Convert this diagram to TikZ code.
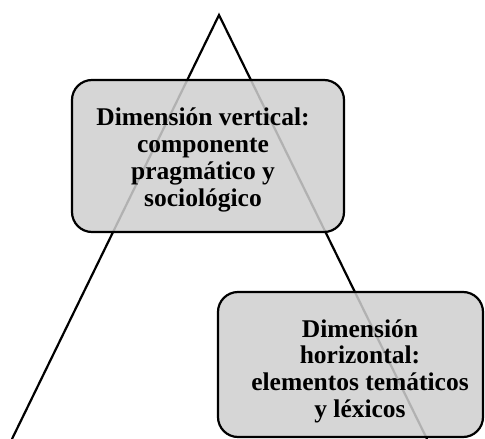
\documentclass[tikz,border=0pt]{standalone}
\usepackage{fontspec}
\setmainfont{Liberation Serif}
\begin{document}
\begin{tikzpicture}[x=1pt,y=-1pt,
  edge/.style={line width=2.2pt,line cap=round},
  panel/.style={draw=black,line width=2.2pt,rounded corners=20pt,
    fill=black!19,fill opacity=0.86},
  label/.style={align=center,inner sep=0pt,
    font=\bfseries\fontsize{25.5}{26.7}\selectfont}]
  \useasboundingbox (0,0) rectangle (485,439);
  % triangle sides, running off the bottom edge
  \coordinate (apex) at (219,15);
  \coordinate (leftfoot) at (12,439);
  \coordinate (rightfoot) at (427,439);
  \begin{scope}
    \clip (0,0) rectangle (485,439);
    \draw[edge] (leftfoot) -- (apex) -- (rightfoot);
  \end{scope}
  % translucent panels over the sides
  \path[panel] (72,80) rectangle (344,232);
  \path[panel] (218,292) rectangle (483,437);
  % panel texts
  \node[label] (vert) at (203,160) {Dimensión vertical:\\componente\\pragmático y\\sociológico};
  \node[label] (horiz) at (360,371) {Dimensión\\horizontal:\\elementos temáticos\\y léxicos};
\end{tikzpicture}
\end{document}
